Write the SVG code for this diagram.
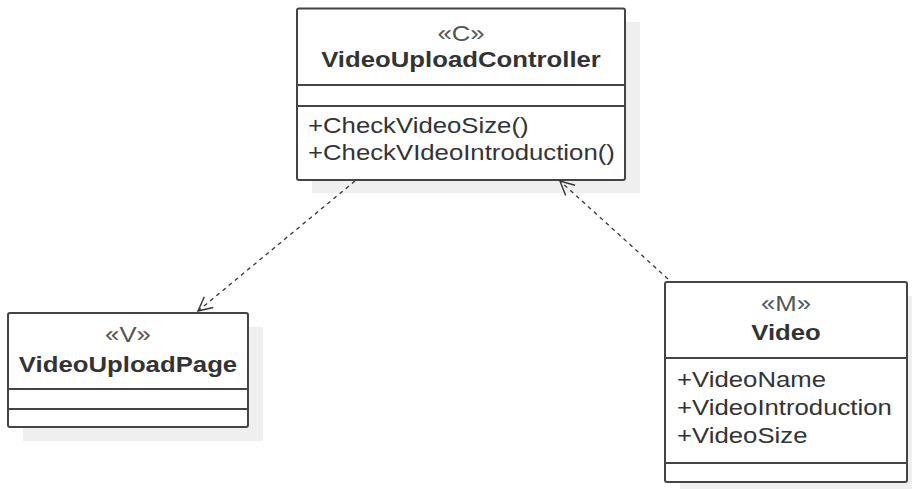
<svg xmlns="http://www.w3.org/2000/svg" width="912" height="489" viewBox="0 0 912 489">
  <style>
    .shadow { fill: #efefef; stroke: none; }
    .box { fill: #ffffff; stroke: #444444; stroke-width: 2; }
    .sep { stroke: #444444; stroke-width: 2; }
    text { font-family: "Liberation Sans", Arial, sans-serif; font-size: 22px; fill: #333333; }
    .st { fill: #555555; text-anchor: middle; }
    .name { font-weight: bold; text-anchor: middle; }
    .conn { fill: none; stroke: #333333; stroke-width: 1.3; stroke-dasharray: 4 4; }
  </style>
  <defs>
    <marker id="open" markerUnits="userSpaceOnUse" markerWidth="20" markerHeight="20" viewBox="-16 -10 20 20" refX="0" refY="0" orient="auto">
      <path d="M -14 -7 L 0 0 L -14 7" fill="none" stroke="#333333" stroke-width="1.4"/>
    </marker>
  </defs>
  <rect width="912" height="489" fill="#ffffff"/>

  <g id="VideoUploadController">
    <rect class="shadow" x="312" y="22" width="328" height="171"/>
    <rect class="box" x="297" y="8.5" width="328" height="171.5" rx="2"/>
    <line class="sep" x1="297" y1="85" x2="625" y2="85"/>
    <line class="sep" x1="297" y1="106" x2="625" y2="106"/>
    <text class="st" transform="translate(461,41) scale(1.17,1)">«C»</text>
    <text class="name" transform="translate(461,67) scale(1.17,1)">VideoUploadController</text>
    <text transform="translate(308,133) scale(1.17,1)">+CheckVideoSize()</text>
    <text transform="translate(308,160) scale(1.17,1)">+CheckVIdeoIntroduction()</text>
  </g>

  <g id="VideoUploadPage">
    <rect class="shadow" x="23" y="327" width="240" height="114"/>
    <rect class="box" x="8" y="313" width="240" height="114" rx="2"/>
    <line class="sep" x1="8" y1="389" x2="248" y2="389"/>
    <line class="sep" x1="8" y1="409" x2="248" y2="409"/>
    <text class="st" transform="translate(128,342) scale(1.17,1)">«V»</text>
    <text class="name" transform="translate(128,372) scale(1.17,1)">VideoUploadPage</text>
  </g>

  <g id="Video">
    <rect class="shadow" x="680" y="296" width="242" height="200"/>
    <rect class="box" x="665" y="282" width="242" height="200" rx="2"/>
    <line class="sep" x1="665" y1="358" x2="907" y2="358"/>
    <line class="sep" x1="665" y1="463" x2="907" y2="463"/>
    <text class="st" transform="translate(786,311) scale(1.17,1)">«M»</text>
    <text class="name" transform="translate(786,340) scale(1.17,1)">Video</text>
    <text transform="translate(677,387) scale(1.17,1)">+VideoName</text>
    <text transform="translate(677,415) scale(1.17,1)">+VideoIntroduction</text>
    <text transform="translate(677,443) scale(1.17,1)">+VideoSize</text>
  </g>

  <g id="connectors">
    <line class="conn" x1="355" y1="181" x2="198" y2="311" marker-end="url(#open)"/>
    <line class="conn" x1="668" y1="279" x2="560" y2="181" marker-end="url(#open)"/>
  </g>
</svg>
